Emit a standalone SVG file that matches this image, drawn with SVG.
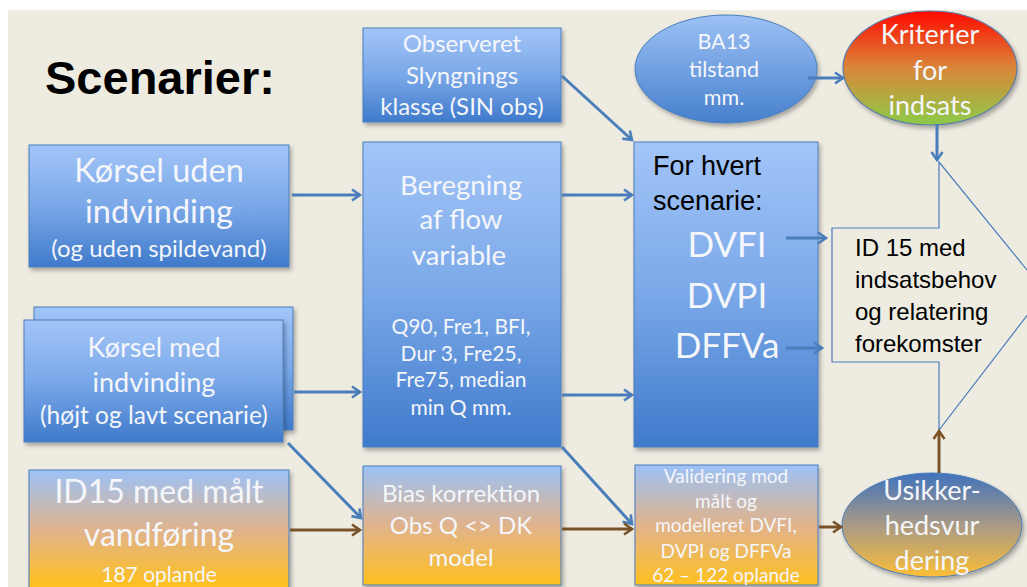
<svg xmlns="http://www.w3.org/2000/svg" width="1027" height="587" viewBox="0 0 1027 587">
<defs>
<linearGradient id="gBlue" x1="0" y1="0" x2="0" y2="1">
<stop offset="0" stop-color="#A3C5F8"/><stop offset="0.5" stop-color="#7AA8E8"/><stop offset="1" stop-color="#3F7ACB"/>
</linearGradient>
<linearGradient id="gOrange" x1="0" y1="0" x2="0" y2="1">
<stop offset="0" stop-color="#9CC2F7"/><stop offset="0.5" stop-color="#E0B38C"/><stop offset="1" stop-color="#FFC020"/>
</linearGradient>
<linearGradient id="gOrangeTall" x1="0" y1="0" x2="0" y2="1">
<stop offset="0" stop-color="#9CC2F7"/><stop offset="0.45" stop-color="#E0B38C"/><stop offset="0.85" stop-color="#FFC020"/>
</linearGradient>
<linearGradient id="gBA" x1="0" y1="0" x2="0" y2="1">
<stop offset="0" stop-color="#9DC1F5"/><stop offset="1" stop-color="#4680CC"/>
</linearGradient>
<linearGradient id="gKrit" x1="0" y1="0" x2="0" y2="1">
<stop offset="0" stop-color="#FF0A00"/><stop offset="0.5" stop-color="#D9873A"/><stop offset="1" stop-color="#8CCB48"/>
</linearGradient>
<linearGradient id="gUsik" x1="0" y1="0" x2="0" y2="1">
<stop offset="0" stop-color="#3F72BC"/><stop offset="0.5" stop-color="#A99A86"/><stop offset="1" stop-color="#FBBE36"/>
</linearGradient>
<filter id="sh" x="-10%" y="-10%" width="125%" height="125%">
<feDropShadow dx="2" dy="3" stdDeviation="2" flood-color="#000" flood-opacity="0.3"/>
</filter>
<marker id="ab" viewBox="0 0 14 14" refX="11" refY="7" markerWidth="14" markerHeight="14" markerUnits="userSpaceOnUse" orient="auto">
<path d="M3,1.5 L11,7 L3,12.5" fill="none" stroke="#4A7EBB" stroke-width="2.6"/>
</marker>
<marker id="abr" viewBox="0 0 14 14" refX="11" refY="7" markerWidth="14" markerHeight="14" markerUnits="userSpaceOnUse" orient="auto">
<path d="M3,1.5 L11,7 L3,12.5" fill="none" stroke="#7A5228" stroke-width="2.6"/>
</marker>
<style>
.box{stroke:#4A7EBB;stroke-width:1;filter:url(#sh)}
.bl{fill:url(#gBlue)}
.or{fill:url(#gOrange)}
.t{font-family:Lato,"Open Sans","DejaVu Sans",sans-serif;fill:#F4F6FA;text-anchor:middle}
.k{font-family:"Liberation Sans",Arial,sans-serif;fill:#000}
.cb{fill:none;stroke:#4A7EBB;stroke-width:3;marker-end:url(#ab)}
.cr{fill:none;stroke:#7A5228;stroke-width:3;marker-end:url(#abr)}
</style>
</defs>
<rect x="0" y="0" width="1027" height="587" fill="#FFFFFF"/>
<rect x="8" y="10" width="1019" height="577" fill="#EEEBE1"/>

<g id="title"><text class="k" x="45" y="94" font-size="47" font-weight="bold">Scenarier:</text></g>

<g id="observeret">
<rect class="box bl" x="363" y="28" width="198" height="94"/>
<text class="t" font-size="24"><tspan x="462" y="52">Observeret</tspan><tspan x="462" y="84">Slyngnings</tspan><tspan x="462" y="115">klasse (SIN obs)</tspan></text>
</g>

<g id="ba13">
<ellipse cx="726" cy="69" rx="91" ry="54" fill="url(#gBA)" stroke="#4A7EBB" stroke-width="1" filter="url(#sh)"/>
<text class="t" font-size="21.5"><tspan x="724" y="49">BA13</tspan><tspan x="724" y="77">tilstand</tspan><tspan x="724" y="105">mm.</tspan></text>
</g>

<g id="kriterier">
<ellipse cx="930" cy="68" rx="87" ry="57" fill="url(#gKrit)" stroke="#5B7BA8" stroke-width="1.2" filter="url(#sh)"/>
<text class="t" font-size="27"><tspan x="930" y="44">Kriterier</tspan><tspan x="930" y="80">for</tspan><tspan x="930" y="115">indsats</tspan></text>
</g>

<g id="korsel-uden">
<rect class="box bl" x="29" y="145" width="260" height="122"/>
<text class="t"><tspan x="159" y="182" font-size="32.5">Kørsel uden</tspan><tspan x="159" y="223" font-size="32.5">indvinding</tspan><tspan x="159" y="257" font-size="24">(og uden spildevand)</tspan></text>
</g>

<g id="korsel-med">
<rect class="box bl" x="34" y="307" width="259" height="123"/>
<rect class="box bl" x="24" y="320" width="259" height="122"/>
<text class="t"><tspan x="154" y="357" font-size="27">Kørsel med</tspan><tspan x="154" y="392" font-size="27">indvinding</tspan><tspan x="154" y="424" font-size="24.5">(højt og lavt scenarie)</tspan></text>
</g>

<g id="beregning">
<rect class="box bl" x="363" y="142" width="198" height="305"/>
<text class="t"><tspan x="461" y="195" font-size="27.5">Beregning</tspan><tspan x="461" y="229" font-size="27.5">af flow</tspan><tspan x="461" y="265" font-size="27.5">variable</tspan>
<tspan x="461" y="334" font-size="21">Q90, Fre1, BFI,</tspan><tspan x="461" y="361" font-size="21">Dur 3, Fre25,</tspan><tspan x="461" y="387" font-size="21">Fre75, median</tspan><tspan x="461" y="415" font-size="21">min Q mm.</tspan></text>
</g>

<g id="for-hvert">
<rect class="box bl" x="634" y="142" width="184" height="305"/>
<text class="k" font-size="27"><tspan x="653" y="175">For hvert</tspan><tspan x="653" y="210">scenarie:</tspan></text>
<text class="t" font-size="35"><tspan x="727" y="257">DVFI</tspan><tspan x="727" y="308">DVPI</tspan><tspan x="727" y="358">DFFVa</tspan></text>
</g>

<g id="id15-indsats">
<polygon points="832,228 939,228 939,162 1045,292 939,430 939,362 832,362" fill="none" stroke="#4A7EBB" stroke-width="1.2"/>
<text class="k" font-size="24"><tspan x="855" y="256">ID 15 med</tspan><tspan x="855" y="288">indsatsbehov</tspan><tspan x="855" y="320">og relatering</tspan><tspan x="855" y="352">forekomster</tspan></text>
</g>

<g id="id15-maalt">
<rect class="box" fill="url(#gOrangeTall)" x="29" y="470" width="260" height="135"/>
<text class="t"><tspan x="159" y="503" font-size="32">ID15 med målt</tspan><tspan x="159" y="546" font-size="32">vandføring</tspan><tspan x="159" y="582" font-size="21">187 oplande</tspan></text>
</g>

<g id="bias">
<rect class="box or" x="363" y="466" width="198" height="119"/>
<text class="t" font-size="24"><tspan x="461" y="502">Bias korrektion</tspan><tspan x="461" y="534">Obs Q &lt;&gt; DK</tspan><tspan x="461" y="566">model</tspan></text>
</g>

<g id="validering">
<rect class="box or" x="635" y="465" width="183" height="120"/>
<text class="t" font-size="19"><tspan x="726" y="483">Validering mod</tspan><tspan x="726" y="508">målt og</tspan><tspan x="726" y="532">modelleret DVFI,</tspan><tspan x="726" y="558">DVPI og DFFVa</tspan><tspan x="726" y="582">62 – 122 oplande</tspan></text>
</g>

<g id="usikker">
<ellipse cx="932" cy="525" rx="90" ry="52" fill="url(#gUsik)" stroke="#4A7EBB" stroke-width="1" filter="url(#sh)"/>
<text class="t" font-size="27"><tspan x="932" y="500">Usikker-</tspan><tspan x="932" y="535">hedsvur</tspan><tspan x="932" y="570">dering</tspan></text>
</g>

<g id="connectors">
<line class="cb" x1="292" y1="195" x2="360" y2="195"/>
<line class="cb" x1="294" y1="392" x2="360" y2="392"/>
<line class="cb" x1="562" y1="76" x2="632" y2="140"/>
<line class="cb" x1="562" y1="195" x2="632" y2="195"/>
<line class="cb" x1="562" y1="395" x2="632" y2="395"/>
<line class="cb" x1="786" y1="238" x2="826" y2="238"/>
<line class="cb" x1="786" y1="348" x2="822" y2="348"/>
<line class="cb" x1="808" y1="78" x2="843" y2="78"/>
<line class="cb" x1="937" y1="124" x2="937" y2="160"/>
<line class="cb" x1="288" y1="443" x2="361" y2="518"/>
<line class="cb" x1="562" y1="447" x2="632" y2="524"/>
<line class="cr" x1="290" y1="530" x2="360" y2="530"/>
<line class="cr" x1="562" y1="529" x2="632" y2="529"/>
<line class="cr" x1="819" y1="527" x2="841" y2="527"/>
<line class="cr" x1="939" y1="473" x2="939" y2="431"/>
</g>
</svg>
